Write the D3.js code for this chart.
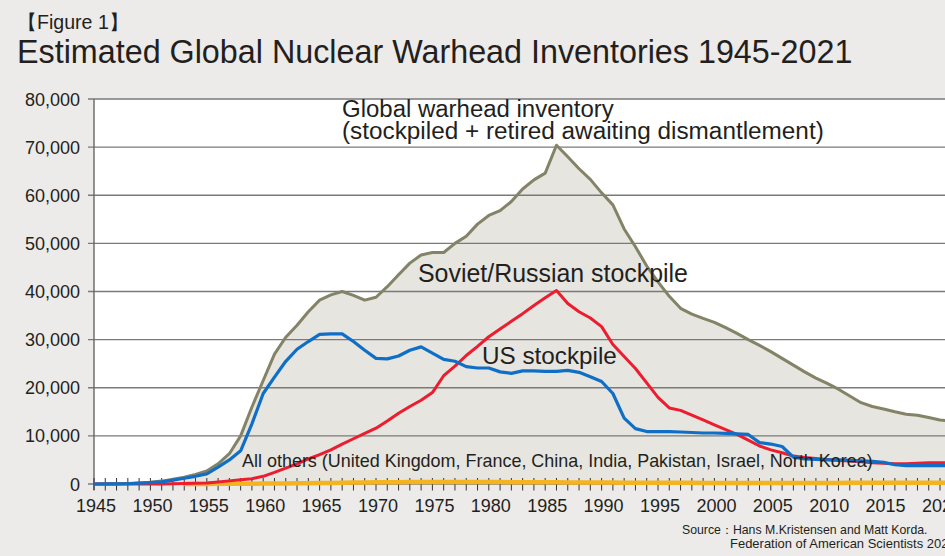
<!DOCTYPE html>
<html>
<head>
<meta charset="utf-8">
<script src="https://cdn.jsdelivr.net/npm/d3@7"></script>
<style>
  body { margin: 0; background: #ecebe9; }
  svg { display: block; font-family: "Liberation Sans", Arial, sans-serif; }
  text { fill: #231f20; }
</style>
</head>
<body>
<svg id="chart" width="945" height="556"></svg>
<script>
// year categories 1945..2021
const years = d3.range(1945, 2022);

const globalInventory = [
  2, 10, 30, 100, 200, 350, 600, 1000, 1400, 2000,
  2700, 4200, 6300, 10000, 16000, 21500, 27000, 30500, 33000, 35800,
  38200, 39300, 40000, 39200, 38200, 38800, 41000, 43500, 45900, 47600,
  48100, 48100, 50000, 51500, 54000, 55800, 56800, 58700, 61300, 63200,
  64600, 70400, 68000, 65500, 63300, 60500, 58000, 53000, 49300, 45300,
  42000, 39000, 36500, 35300, 34400, 33600, 32500, 31300, 30000, 28800,
  27500, 26100, 24700, 23300, 22000, 20900, 19700, 18300, 16900, 16100,
  15600, 15000, 14500, 14300, 13800, 13300, 13100
];

const usStockpile = [
  2, 9, 13, 50, 170, 300, 450, 800, 1200, 1600,
  2100, 3500, 5000, 6900, 12500, 18800, 22200, 25500, 28000, 29600,
  31100, 31200, 31200, 29600, 27800, 26100, 26000, 26600, 27800, 28500,
  27200, 25900, 25500, 24400, 24100, 24100, 23300, 23000, 23500, 23500,
  23400, 23400, 23600, 23200, 22300, 21300, 18800, 13700, 11500, 10900,
  10900, 10900, 10800, 10700, 10600, 10600, 10500, 10400, 10300, 8600,
  8300, 7800, 5600, 5200, 5100, 5000, 5000, 4900, 4800, 4700,
  4500, 4000, 3800, 3800, 3800, 3800, 3800
];

const russiaStockpile = [
  0, 0, 0, 0, 1, 5, 25, 50, 120, 150,
  200, 400, 650, 900, 1100, 1600, 2400, 3300, 4200, 5200,
  6100, 7100, 8300, 9400, 10500, 11600, 13100, 14700, 16100, 17400,
  19000, 22500, 24500, 26700, 28600, 30600, 32200, 33800, 35400, 37100,
  38700, 40200, 37500, 35800, 34500, 32700, 29000, 26500, 24000, 21000,
  18000, 15800, 15300, 14300, 13300, 12300, 11300, 10300, 9100, 7900,
  7100, 6500, 5800, 5500, 5300, 5100, 4900, 4800, 4600, 4400,
  4300, 4200, 4200, 4300, 4400, 4400, 4400
];

// others start with the UK in 1953
const otherStockpile = [
  null, null, null, null, null, null, null, null, 0, 10,
  20, 30, 40, 50, 60, 80, 100, 120, 140, 160,
  200, 230, 260, 290, 320, 350, 360, 380, 400, 410,
  420, 420, 420, 410, 400, 400, 390, 380, 370, 360,
  350, 340, 330, 320, 310, 300, 290, 280, 270, 260,
  250, 250, 240, 240, 230, 230, 230, 230, 230, 230,
  230, 230, 230, 230, 230, 230, 230, 240, 240, 240,
  250, 250, 260, 260, 270, 270, 280
];

const yTicks = [0, 10000, 20000, 30000, 40000, 50000, 60000, 70000, 80000];
const xLabels = d3.range(1945, 2021, 5);

const svg = d3.select("#chart");
const W = 945, H = 556;
const plotLeft = 94, plotTop = 99, plotBottom = 484;

const x = d3.scaleLinear().domain([1945, 2021]).range([plotLeft, plotLeft + 76 * 11.28]);
const y = d3.scaleLinear().domain([0, 80000]).range([plotBottom, plotTop]);

// white plot background
svg.append("rect")
  .attr("x", plotLeft).attr("y", plotTop)
  .attr("width", W - plotLeft).attr("height", plotBottom - plotTop)
  .attr("fill", "#fff");

const rows = years.map((yr, i) => ({
  year: yr,
  global: globalInventory[i],
  us: usStockpile[i],
  ru: russiaStockpile[i],
  other: otherStockpile[i]
}));

// global area
svg.append("path")
  .datum(rows)
  .attr("fill", "#e6e5df")
  .attr("d", d3.area().x(d => x(d.year)).y0(y(0)).y1(d => y(d.global)));

// gridlines
svg.append("g")
  .selectAll("line")
  .data(yTicks)
  .join("line")
  .attr("x1", plotLeft - 6).attr("x2", W)
  .attr("y1", d => y(d)).attr("y2", d => y(d))
  .attr("stroke", "#7a7a7a")
  .attr("stroke-width", 1.4);

// y axis line
svg.append("line")
  .attr("x1", plotLeft).attr("x2", plotLeft)
  .attr("y1", plotTop).attr("y2", plotBottom + 6)
  .attr("stroke", "#666").attr("stroke-width", 1.4);

// y labels
svg.append("g")
  .selectAll("text")
  .data(yTicks)
  .join("text")
  .attr("x", 80).attr("y", d => y(d) + 6.5)
  .attr("text-anchor", "end")
  .attr("font-size", 18)
  .text(d => d3.format(",")(d));

// year ticks
svg.append("g")
  .selectAll("line")
  .data(years)
  .join("line")
  .attr("x1", d => x(d)).attr("x2", d => x(d))
  .attr("y1", plotBottom - 6).attr("y2", plotBottom + 6.5)
  .attr("stroke", "#333").attr("stroke-width", 1);

// x labels
svg.append("g")
  .selectAll("text")
  .data(xLabels)
  .join("text")
  .attr("x", d => x(d) + 2).attr("y", 512)
  .attr("text-anchor", "middle")
  .attr("font-size", 18)
  .text(d => d);

const line = key => d3.line()
  .defined(d => d[key] != null)
  .x(d => x(d.year))
  .y(d => y(d[key]));

svg.append("path").datum(rows)
  .attr("fill", "none").attr("stroke", "#848367").attr("stroke-width", 3)
  .attr("stroke-linejoin", "round")
  .attr("d", line("global"));

svg.append("path").datum(rows)
  .attr("fill", "none").attr("stroke", "#f5b41e").attr("stroke-width", 4.5)
  .attr("d", line("other"));

svg.append("path").datum(rows)
  .attr("fill", "none").attr("stroke", "#ed1c2e").attr("stroke-width", 3)
  .attr("stroke-linejoin", "round")
  .attr("d", line("ru"));

svg.append("path").datum(rows)
  .attr("fill", "none").attr("stroke", "#0f6fc6").attr("stroke-width", 3.2)
  .attr("stroke-linejoin", "round")
  .attr("d", line("us"));

// shrink or grow a text to a target width
function fit(sel, w) {
  const n = sel.node();
  const cur = n.getComputedTextLength();
  const fs = parseFloat(sel.attr("font-size"));
  sel.attr("font-size", fs * w / cur);
  return sel;
}

const note = (tx, ty, s, fs, w) =>
  fit(svg.append("text").attr("x", tx).attr("y", ty).attr("font-size", fs).text(s), w);

note(342, 117, "Global warhead inventory", 18, 272);
note(342, 139, "(stockpiled + retired awaiting dismantlement)", 18, 482);
note(418, 282, "Soviet/Russian stockpile", 18, 270);
note(482, 364, "US stockpile", 18, 135);
note(242, 467, "All others (United Kingdom, France, China, India, Pakistan, Israel, North Korea)", 16, 631);

// titles
note(17, 29, "【Figure 1】", 19, 111);
note(17, 63, "Estimated Global Nuclear Warhead Inventories 1945-2021", 26, 836);

// source
note(682, 534, "Source：Hans M.Kristensen and Matt Korda.", 12, 246);
note(730, 548, "Federation of American Scientists 2021", 12, 226);
</script>
</body>
</html>
